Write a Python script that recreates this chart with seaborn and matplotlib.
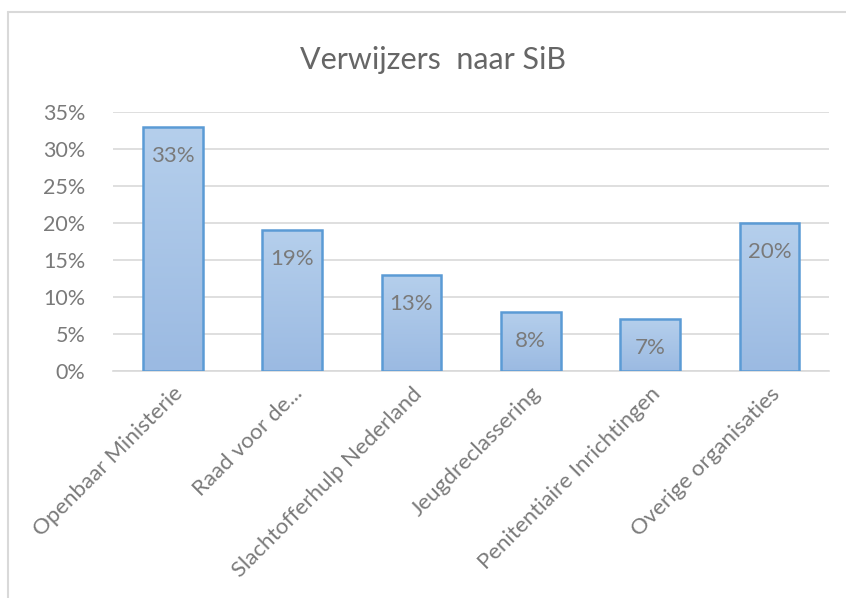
import matplotlib
matplotlib.use("Agg")
import matplotlib.pyplot as plt
import seaborn as sb
import numpy as np
import pandas as pd
from matplotlib.colors import LinearSegmentedColormap
from matplotlib.ticker import PercentFormatter

# Data
categories = ["Openbaar Ministerie", "Raad voor de...", "Slachtofferhulp Nederland",
              "Jeugdreclassering", "Penitentiaire Inrichtingen", "Overige organisaties"]
shares = [0.33, 0.19, 0.13, 0.08, 0.07, 0.20]
bar_labels = ["33%", "19%", "13%", "8%", "7%", "20%"]

df = pd.DataFrame({"verwijzer": categories, "aandeel": shares})

sb.set_style("white")
plt.rcParams["font.family"] = ["Lato", "DejaVu Sans"]

fig = plt.figure(figsize=(8.46, 5.98), dpi=100)
ax = fig.add_axes([0.1336, 0.3796, 0.8464, 0.4331])

sb.barplot(data=df, x="verwijzer", y="aandeel", width=0.5,
           color="#a8c4e8", edgecolor="#5b9bd5", linewidth=1.8, ax=ax, zorder=3)

# gradient fill inside each bar
grad = LinearSegmentedColormap.from_list("g", ["#9bbae2", "#b5cfec"])
for p in ax.patches:
    x0, y0 = p.get_x(), p.get_y()
    w, h = p.get_width(), p.get_height()
    im = ax.imshow(np.linspace(0, 1, 100).reshape(-1, 1), cmap=grad, aspect="auto",
                   extent=[x0, x0 + w, y0, y0 + h], origin="lower", zorder=3.5)
    im.set_clip_path(p)
    p.set_facecolor("none")
    p.set_zorder(4)

ax.set_xlim(-0.5, len(categories) - 0.5)
ax.set_ylim(0, 0.35)
ax.set_yticks(np.arange(0, 0.36, 0.05))
ax.yaxis.set_major_formatter(PercentFormatter(1.0, decimals=0))
ax.grid(axis="y", color="#d9d9d9", linewidth=1.2, zorder=0)
for s in ["top", "right", "left"]:
    ax.spines[s].set_visible(False)
ax.spines["bottom"].set_color("#d9d9d9")
ax.spines["bottom"].set_linewidth(1.2)
ax.set_xlabel("")
ax.set_ylabel("")
ax.tick_params(axis="y", length=0, pad=20, labelsize=15.5, labelcolor="#7a7a7a")
ax.tick_params(axis="x", length=0, pad=9, labelsize=16, labelcolor="#7a7a7a")
plt.setp(ax.get_xticklabels(), rotation=45, ha="right", va="top", rotation_mode="anchor")

ax.bar_label(ax.containers[0], labels=bar_labels, padding=-28, fontsize=16,
             color="#7a7a7a", zorder=5)

fig.text(0.512, 0.9, "Verwijzers  naar SiB", ha="center", va="center",
         fontsize=22, fontweight="normal", color="#666666")

# chart area border
fig.add_artist(plt.Line2D([0.0095, 0.0095], [0.0, 0.98], color="#d9d9d9", lw=1.5))
fig.add_artist(plt.Line2D([0.0095, 1.0], [0.98, 0.98], color="#d9d9d9", lw=1.5))

fig.savefig("out.png", dpi=100, facecolor="white")
